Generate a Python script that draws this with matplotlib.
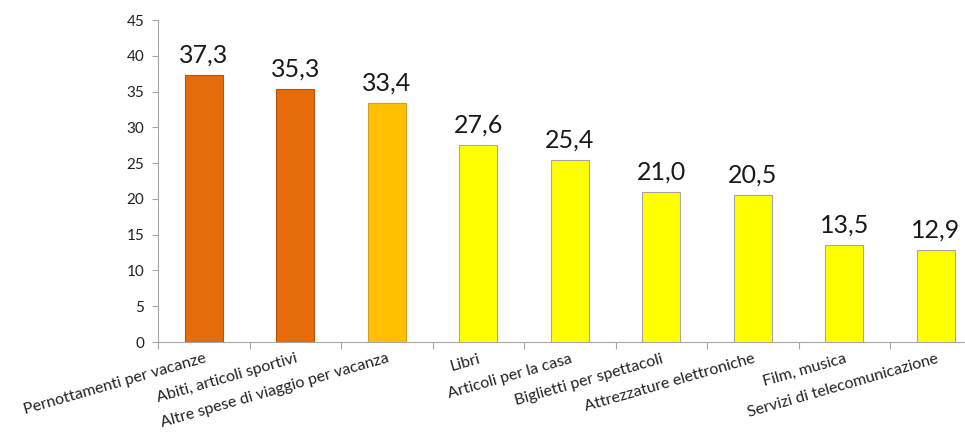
import matplotlib
matplotlib.use("Agg")
import matplotlib.pyplot as plt

categories = [
    "Pernottamenti per vacanze",
    "Abiti, articoli sportivi",
    "Altre spese di viaggio per vacanza",
    "Libri",
    "Articoli per la casa",
    "Biglietti per spettacoli",
    "Attrezzature elettroniche",
    "Film, musica",
    "Servizi di telecomunicazione",
]
values = [37.3, 35.3, 33.4, 27.6, 25.4, 21.0, 20.5, 13.5, 12.9]
bar_colors = ["#E46C0A", "#E46C0A", "#FFC000"] + ["#FFFF00"] * 6
edge_colors = ["#B3570E", "#B3570E", "#C9A227"] + ["#A6A6A6"] * 6
yticks = list(range(0, 46, 5))

plt.rcParams['font.family'] = ['Lato', 'DejaVu Sans']

fig = plt.figure(figsize=(9.65, 4.32), dpi=100)
ax = fig.add_axes([158/965, 1 - 342/432, (981.5 - 158)/965, (342 - 20)/432])

x = list(range(len(categories)))
ax.bar(x, values, width=0.41, color=bar_colors, edgecolor=edge_colors, linewidth=0.8, zorder=3)

for xi, v in zip(x, values):
    ax.annotate(f"{v:.1f}".replace(".", ","), (xi, v), xytext=(0, 6), textcoords="offset points",
                ha="center", va="bottom", fontsize=18, color="#1a1a1a")

ax.set_xlim(-0.5, len(categories) - 0.5)
ax.set_ylim(0, 45)
ax.set_yticks(yticks)
ax.set_yticklabels([str(t) for t in yticks], fontsize=11, color="#222222")

ax.set_xticks(x)
ax.set_xticklabels(categories, rotation=16, ha="right", va="top", rotation_mode="anchor",
                   fontsize=11.5, color="#222222")
ax.tick_params(axis="x", which="major", length=0, pad=7)
ax.set_xticks([i - 0.5 for i in range(len(categories) + 1)], minor=True)
ax.tick_params(axis="x", which="minor", length=5, color="#A6A6A6", width=0.8)
ax.tick_params(axis="y", length=4, color="#A6A6A6", width=0.8, pad=6)

for s in ["top", "right"]:
    ax.spines[s].set_visible(False)
for s in ["left", "bottom"]:
    ax.spines[s].set_color("#A6A6A6")
    ax.spines[s].set_linewidth(0.8)

fig.savefig("out.png", dpi=100)
